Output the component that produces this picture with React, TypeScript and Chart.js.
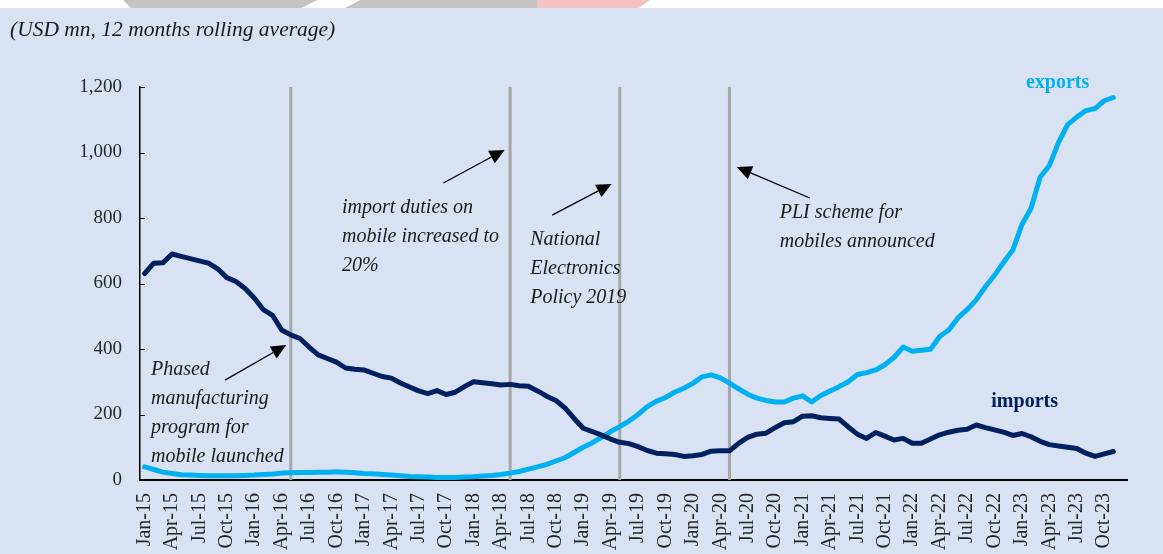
import React, { useEffect, useRef } from 'react';
import { Chart, registerables } from 'chart.js';

Chart.register(...registerables);

const MONTHS = ['Jan', 'Feb', 'Mar', 'Apr', 'May', 'Jun', 'Jul', 'Aug', 'Sep', 'Oct', 'Nov', 'Dec'];
const YEARS = ['15', '16', '17', '18', '19', '20', '21', '22', '23'];
const categories: string[] = YEARS.flatMap((y) => MONTHS.map((m) => `${m}-${y}`));

const importsData: (number | null)[] = [
  630, 662, 663, 690, 683, 676, 669, 662, 645, 618,
  606, 585, 556, 520, 503, 458, 443, 432, 406, 382,
  371, 360, 342, 338, 336, 326, 316, 311, 296, 284,
  272, 264, 273, 261, 268, 285, 300, 297, 294, 290,
  292, 288, 286, 272, 256, 243, 220, 188, 158, 148,
  137, 125, 115, 111, 102, 90, 82, 80, 78, 72,
  74, 78, 88, 89, 89, 112, 130, 140, 143, 160,
  175, 178, 195, 196, 190, 188, 186, 162, 140, 127,
  145, 134, 122, 127, 112, 112, 125, 138, 146, 152,
  155, 168, 160, 153, 146, 136, 142, 132, 118, 108,
  104, 100, 96, 82, 72, 80, 87, null,
];

const exportsData: (number | null)[] = [
  40, 32, 24, 20, 16, 15, 14, 13, 13, 13,
  13, 14, 15, 17, 18, 21, 22, 23, 23, 24,
  24, 25, 24, 22, 20, 19, 17, 15, 13, 11,
  10, 9, 8, 8, 8, 9, 10, 12, 14, 17,
  21, 26, 33, 40, 48, 58, 68, 84, 100, 114,
  130, 148, 163, 180, 200, 224, 240, 252, 268, 280,
  295, 315, 321, 312, 296, 278, 262, 250, 243, 238,
  238, 250, 257, 238, 258, 272, 285, 300, 322, 328,
  336, 352, 374, 406, 393, 396, 399, 438, 458, 495,
  520, 550, 590, 625, 665, 702, 780, 830, 925, 960,
  1030, 1085, 1108, 1128, 1134, 1158, 1168, null,
];

const yTicks = [0, 200, 400, 600, 800, 1000, 1200];
const eventMonths = ['May-16', 'May-18', 'May-19', 'May-20'];

const titleText = '(USD mn, 12 months rolling average)';

// annotation anchors in (category index, value) space
const annotations = [
  { lines: ['Phased', 'manufacturing', 'program for', 'mobile launched'], at: [0.7, 336] },
  { lines: ['import duties on', 'mobile increased to', '20%'], at: [21.6, 831] },
  { lines: ['National', 'Electronics', 'Policy 2019'], at: [42.2, 733] },
  { lines: ['PLI scheme for', 'mobiles announced'], at: [69.5, 815] },
];

const arrows = [
  { from: [8.8, 305], to: [15.5, 412] },
  { from: [32.7, 907], to: [39.4, 1008] },
  { from: [44.6, 809], to: [51.1, 904] },
  { from: [72.8, 861], to: [64.8, 956] },
];

const seriesLabels = [
  { text: 'exports', at: [99.9, 1212], color: '#00b0f0' },
  { text: 'imports', at: [96.3, 238], color: '#002060' },
];

const SERIF = '"Liberation Serif", "DejaVu Serif", serif';

const overlay = {
  id: 'overlay',
  beforeDatasetsDraw(chart: any) {
    const { ctx, scales } = chart;
    const x = scales.x;
    const y = scales.y;
    ctx.save();
    ctx.strokeStyle = '#a6a6a6';
    ctx.lineWidth = 3;
    eventMonths.forEach((m) => {
      const px = x.getPixelForValue(categories.indexOf(m));
      ctx.beginPath();
      ctx.moveTo(px, y.getPixelForValue(1200));
      ctx.lineTo(px, y.getPixelForValue(0));
      ctx.stroke();
    });
    // inward tick marks on y axis
    ctx.strokeStyle = '#000';
    ctx.lineWidth = 1;
    const left = chart.chartArea.left;
    yTicks.forEach((v) => {
      const py = Math.round(y.getPixelForValue(v)) + 0.5;
      ctx.beginPath();
      ctx.moveTo(left, py);
      ctx.lineTo(left + 5, py);
      ctx.stroke();
    });
    ctx.restore();
  },
  afterDatasetsDraw(chart: any) {
    const { ctx, scales } = chart;
    const x = scales.x;
    const y = scales.y;
    ctx.save();
    // annotation text
    ctx.fillStyle = '#1a1a1a';
    ctx.font = `italic 20px ${SERIF}`;
    ctx.textAlign = 'left';
    ctx.textBaseline = 'middle';
    annotations.forEach((a) => {
      const px = x.getPixelForValue(a.at[0]);
      const py = y.getPixelForValue(a.at[1]);
      a.lines.forEach((ln, i) => ctx.fillText(ln, px, py + i * 29));
    });
    // arrows
    arrows.forEach((a) => {
      const x1 = x.getPixelForValue(a.from[0]);
      const y1 = y.getPixelForValue(a.from[1]);
      const x2 = x.getPixelForValue(a.to[0]);
      const y2 = y.getPixelForValue(a.to[1]);
      const ang = Math.atan2(y2 - y1, x2 - x1);
      const hl = 15;
      const hw = 7;
      const bx = x2 - hl * Math.cos(ang);
      const by = y2 - hl * Math.sin(ang);
      ctx.strokeStyle = '#000';
      ctx.lineWidth = 1.3;
      ctx.beginPath();
      ctx.moveTo(x1, y1);
      ctx.lineTo(bx, by);
      ctx.stroke();
      ctx.fillStyle = '#000';
      ctx.beginPath();
      ctx.moveTo(x2, y2);
      ctx.lineTo(bx + hw * Math.sin(ang), by - hw * Math.cos(ang));
      ctx.lineTo(bx - hw * Math.sin(ang), by + hw * Math.cos(ang));
      ctx.closePath();
      ctx.fill();
    });
    // series labels
    ctx.font = `bold 20px ${SERIF}`;
    ctx.textAlign = 'center';
    seriesLabels.forEach((s) => {
      ctx.fillStyle = s.color;
      ctx.fillText(s.text, x.getPixelForValue(s.at[0]), y.getPixelForValue(s.at[1]));
    });
    // title
    ctx.fillStyle = '#1a1a1a';
    ctx.font = `italic 21.5px ${SERIF}`;
    ctx.textAlign = 'left';
    ctx.fillText(titleText, 10, 30);
    ctx.restore();
  },
};

export default function App() {
  const ref = useRef<HTMLCanvasElement | null>(null);
  useEffect(() => {
    document.body.style.margin = '0';
    if (!ref.current) return;
    const chart = new Chart(ref.current, {
      type: 'line',
      data: {
        labels: categories,
        datasets: [
          {
            label: 'imports',
            data: importsData,
            borderColor: '#002060',
            backgroundColor: '#002060',
            borderWidth: 5,
          },
          {
            label: 'exports',
            data: exportsData,
            borderColor: '#00b0f0',
            backgroundColor: '#00b0f0',
            borderWidth: 5,
          },
        ],
      },
      options: {
        responsive: false,
        animation: false,
        layout: { padding: { top: 87, right: 36, left: 0, bottom: 0 } },
        plugins: { legend: { display: false }, tooltip: { enabled: false }, title: { display: false } },
        elements: {
          point: { radius: 0 },
          line: { tension: 0, borderJoinStyle: 'round', borderCapStyle: 'round' },
        },
        scales: {
          x: {
            type: 'category',
            offset: true,
            grid: { display: false, drawTicks: false },
            border: { display: true, color: '#000', width: 2 },
            ticks: {
              autoSkip: false,
              minRotation: 90,
              maxRotation: 90,
              padding: 13,
              color: '#262626',
              font: { family: SERIF, size: 20 },
              callback: (_v: any, i: number) => (i % 3 === 0 ? categories[i] : null),
            },
            afterFit: (s: any) => {
              s.height = 74;
            },
          },
          y: {
            min: 0,
            max: 1200,
            grid: { display: false, drawTicks: false },
            border: { display: true, color: '#000', width: 1.5 },
            ticks: {
              stepSize: 200,
              padding: 18,
              color: '#262626',
              font: { family: SERIF, size: 19 },
              callback: (v: any) => Number(v).toLocaleString('en-US'),
            },
            afterFit: (s: any) => {
              s.width = 140;
            },
          },
        },
      },
      plugins: [overlay],
    });
    return () => chart.destroy();
  }, []);

  return (
    <div style={{ position: 'absolute', left: 0, top: 0, width: 1163, height: 554, background: '#d9e2f3', overflow: 'hidden' }}>
      <div style={{ position: 'absolute', left: 0, top: 0, width: 1163, height: 8, background: '#ffffff' }}>
        <div style={{ position: 'absolute', left: 123, top: 0, width: 194, height: 8, background: '#c4c4c4', clipPath: 'polygon(0 0, 100% 0, 92% 100%, 4% 100%)' }} />
        <div style={{ position: 'absolute', left: 345, top: 0, width: 192, height: 8, background: '#c4c4c4', clipPath: 'polygon(8% 0, 100% 0, 100% 100%, 0 100%)' }} />
        <div style={{ position: 'absolute', left: 537, top: 0, width: 113, height: 8, background: '#f3c2c2', clipPath: 'polygon(0 0, 100% 0, 90% 100%, 0 100%)' }} />
      </div>
      <canvas ref={ref} width={1163} height={554} style={{ position: 'absolute', left: 0, top: 0 }} />
    </div>
  );
}
